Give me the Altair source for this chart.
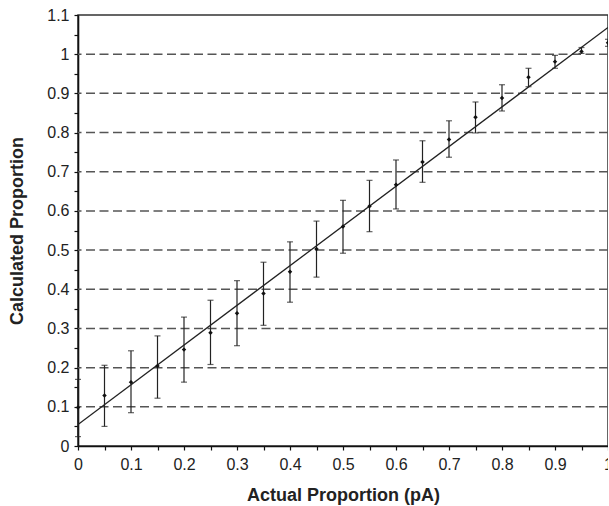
import altair as alt
import pandas as pd

# ---- data ----
x_vals = [0.0, 0.05, 0.1, 0.15, 0.2, 0.25, 0.3, 0.35, 0.4, 0.45, 0.5,
          0.55, 0.6, 0.65, 0.7, 0.75, 0.8, 0.85, 0.9, 0.95, 1.0]
y_vals = [0.098, 0.129, 0.163, 0.204, 0.246, 0.289, 0.339, 0.389, 0.445, 0.503, 0.560,
          0.612, 0.667, 0.725, 0.782, 0.839, 0.888, 0.941, 0.981, 1.007, 1.029]
y_low = [0.024, 0.050, 0.085, 0.122, 0.163, 0.208, 0.256, 0.308, 0.367, 0.431, 0.492,
         0.547, 0.605, 0.673, 0.737, 0.799, 0.855, 0.917, 0.964, 1.002, 1.020]
y_high = [0.170, 0.206, 0.243, 0.281, 0.329, 0.372, 0.422, 0.469, 0.521, 0.574, 0.627,
          0.678, 0.730, 0.779, 0.830, 0.878, 0.922, 0.964, 0.997, 1.017, 1.038]

fit_x = [0.0, 1.0]
fit_y = [0.055, 1.068]

grid_levels = [0.1, 0.2, 0.3, 0.4, 0.5, 0.6, 0.7, 0.8, 0.9, 1.0]
x_ticks = [round(i * 0.05, 2) for i in range(21)]
y_ticks = [round(i * 0.05, 2) for i in range(23)]

df = pd.DataFrame({"x": x_vals, "y": y_vals, "lo": y_low, "hi": y_high})
fit_df = pd.DataFrame({"x": fit_x, "y": fit_y})
grid_df = pd.DataFrame({"g": grid_levels})

label_expr = "round(datum.value*20) % 2 == 0 ? toString(round(datum.value*10)/10) : ''"

xscale = alt.Scale(domain=[0, 1], nice=False, zero=False)
yscale = alt.Scale(domain=[0, 1.1], nice=False, zero=False)

x_axis = alt.Axis(values=x_ticks, labelExpr=label_expr, labelOverlap=False,
                  title="Actual Proportion (pA)", titleY=54, titleBaseline="alphabetic",
                  labelPadding=6, labelFlush=False, zindex=0)
y_axis = alt.Axis(values=y_ticks, labelExpr=label_expr, labelOverlap=False,
                  title="Calculated Proportion", titleX=-56, titleY=215.5,
                  titleAngle=270, titleAlign="center", titleBaseline="alphabetic",
                  labelPadding=5, labelFlush=False, zindex=0)

X = alt.X("x:Q", scale=xscale, axis=x_axis)

grid = alt.Chart(grid_df).mark_rule(
    color="#555555", strokeWidth=1.5, strokeDash=[9, 4.5]
).encode(y=alt.Y("g:Q", scale=yscale, axis=y_axis))

fit = alt.Chart(fit_df).mark_line(color="#222222", strokeWidth=1.3, clip=True).encode(
    x=X, y=alt.Y("y:Q", scale=yscale, axis=y_axis)
)

bars = alt.Chart(df).mark_rule(color="#222222", strokeWidth=1.2).encode(
    x=X, y=alt.Y("lo:Q", scale=yscale, axis=y_axis), y2="hi:Q"
)

cap_lo = alt.Chart(df).mark_tick(orient="horizontal", size=6, thickness=1.2, color="#222222").encode(
    x=X, y=alt.Y("lo:Q", scale=yscale, axis=y_axis)
)
cap_hi = alt.Chart(df).mark_tick(orient="horizontal", size=6, thickness=1.2, color="#222222").encode(
    x=X, y=alt.Y("hi:Q", scale=yscale, axis=y_axis)
)

pts = alt.Chart(df).mark_point(shape="diamond", filled=True, size=20, color="#111111", opacity=1).encode(
    x=X, y=alt.Y("y:Q", scale=yscale, axis=y_axis)
)

chart = alt.layer(grid, fit, bars, cap_lo, cap_hi, pts).properties(
    width=530, height=431,
    autosize="none",
    padding={"left": 78, "top": 15, "right": 0, "bottom": 60},
).configure_view(
    stroke="#333333", strokeWidth=1.5
).configure_axis(
    labelFont="Liberation Sans", labelFontSize=16, labelColor="#222222",
    titleFont="Liberation Sans", titleFontSize=18, titleFontWeight="bold", titleColor="#222222",
    domainColor="#111111", domainWidth=1.6, tickColor="#111111", tickSize=4, tickWidth=1.2,
    grid=False,
)

chart.save("out.html", embed_options={"renderer": "svg", "actions": False})
